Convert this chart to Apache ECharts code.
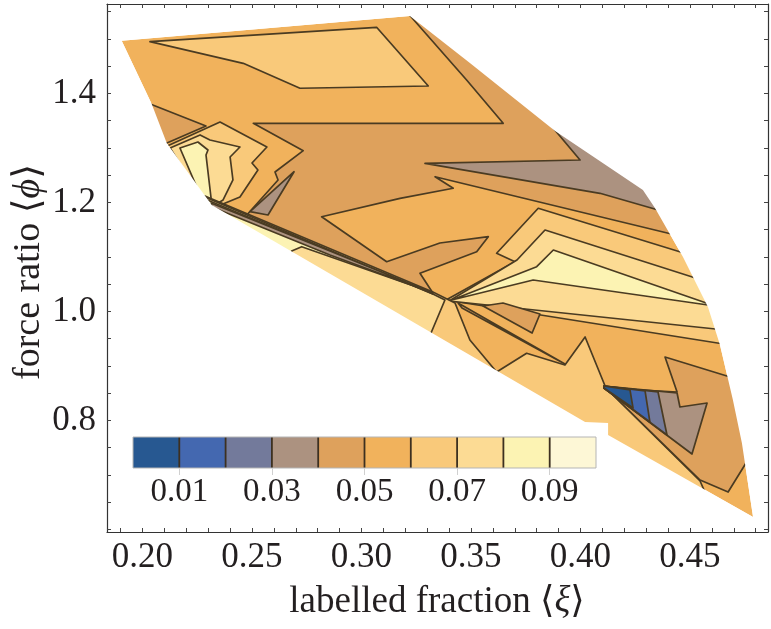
<!DOCTYPE html>
<html><head><meta charset="utf-8">
<script src="https://cdn.jsdelivr.net/npm/echarts@6/dist/echarts.min.js"></script>
<style>html,body{margin:0;padding:0;background:#fff}#c{width:771px;height:629px}</style>
</head><body><div id="c"></div>
<script>
// ---- colour levels (0.00 .. 0.10 step 0.01)
const levelBounds = [0, 0.01, 0.02, 0.03, 0.04, 0.05, 0.06, 0.07, 0.08, 0.09, 0.10];
const levelColors = ['#275891','#4468b0','#737a9b','#ac9280','#dea15c','#f1b25c','#f9c97a','#fcdb94','#fcf3b3','#fdf7d6'];
const colorbarLabels = [0.01, 0.03, 0.05, 0.07, 0.09];
// ---- axes
const xTickLabels = [0.20, 0.25, 0.30, 0.35, 0.40, 0.45];
const xTicks = [0.19,0.20,0.21,0.22,0.23,0.24,0.25,0.26,0.27,0.28,0.29,0.30,0.31,0.32,0.33,0.34,0.35,0.36,0.37,0.38,0.39,0.40,0.41,0.42,0.43,0.44,0.45,0.46,0.47,0.48];
const yTickLabels = [0.8, 1.0, 1.2, 1.4];
const yTicks = [0.60,0.65,0.70,0.75,0.80,0.85,0.90,0.95,1.00,1.05,1.10,1.15,1.20,1.25,1.30,1.35,1.40,1.45,1.50,1.55];
// ---- data domain (labelled fraction, force ratio)
const hull = [[0.1905,1.4969],[0.3221,1.5422],[0.3495,1.4560],[0.3884,1.3312],[0.4285,1.2229],[0.4340,1.1899],[0.4468,1.1000],[0.4582,1.0083],[0.4637,0.9385],[0.4696,0.8376],[0.4737,0.7587],[0.4788,0.6229],[0.4126,0.7734],[0.4126,0.7954],[0.4021,0.7972],[0.2316,1.1954],[0.2111,1.3086],[0.2042,1.3807]];
// ---- contour regions (vertices in data units)
const regionL5Main = [[0.3199,1.5532],[0.3480,1.4248],[0.3647,1.3453],[0.2506,1.3453],[0.2734,1.2951],[0.2605,1.2560],[0.2619,1.2413],[0.2468,1.1734],[0.3326,1.0339],[0.3267,1.0701],[0.3526,1.1097],[0.3579,1.1373],[0.3358,1.1257],[0.3115,1.0914],[0.2818,1.1739],[0.3176,1.2077],[0.3419,1.2261],[0.3336,1.2473],[0.4401,1.1435],[0.4546,1.1312],[0.4637,1.2413],[0.3906,1.4982],[0.3313,1.5569]];
const regionL5Left = [[0.1989,1.3881],[0.2290,1.3404],[0.2080,1.3037]];
const regionL7Top = [[0.2034,1.4951],[0.3069,1.5215],[0.3305,1.4138],[0.2719,1.4096],[0.2460,1.4554]];
const regionL4TopRight = [[0.3290,1.2719],[0.3998,1.2780],[0.3852,1.3477],[0.4180,1.3697],[0.4546,1.2229],[0.4418,1.1789],[0.4089,1.2169]];
const stairL7 = [[0.2103,1.3018],[0.2354,1.3477],[0.2568,1.3018],[0.2500,1.2725],[0.2527,1.2596],[0.2445,1.2101],[0.2345,1.1936],[0.2299,1.1899]];
const stairL8 = [[0.2126,1.3000],[0.2263,1.3239],[0.2308,1.3147],[0.2445,1.3018],[0.2400,1.2835],[0.2413,1.2413],[0.2368,1.2046],[0.2322,1.1936],[0.2290,1.1936]];
const stairL9 = [[0.2171,1.3000],[0.2253,1.3110],[0.2299,1.2963],[0.2290,1.2872],[0.2313,1.2083],[0.2308,1.1973],[0.2281,1.1973]];
const arrowL7 = [[0.4546,1.0982],[0.3807,1.1894],[0.3617,1.1068],[0.3701,1.0914],[0.3386,1.0211],[0.4683,0.9385]];
const arrowL8 = [[0.4568,1.0560],[0.3838,1.1495],[0.3710,1.0945],[0.3400,1.0193],[0.4660,0.9661]];
const arrowL9 = [[0.3412,1.0211],[0.3800,1.0822],[0.3876,1.1128],[0.4614,1.0101],[0.3784,1.0578]];
const quadL5 = [[0.3555,1.0101],[0.3646,1.0156],[0.3815,0.9954],[0.3779,0.9605]];
const sliverL5 = [[0.3441,1.0156],[0.3929,0.9037],[0.3459,1.0064]];
const stripL7 = [[0.2285,1.2119],[0.3326,1.0358],[0.3427,1.0156],[0.3495,0.9477],[0.3617,0.8890],[0.3754,0.9233],[0.3929,0.9018],[0.4021,0.9532],[0.4116,0.8596],[0.4546,0.6890],[0.4578,0.6596],[0.4180,0.6908],[0.3176,0.8743],[0.2263,1.1312],[0.2217,1.1954]];
const stripL8 = [[0.2263,1.2138],[0.3326,1.0321],[0.3381,1.0211],[0.3304,0.9477],[0.2263,1.1587]];
const stripL9 = [[0.2285,1.2064],[0.3326,1.0321],[0.3252,1.0450],[0.2727,1.1189],[0.2681,1.1110],[0.2674,1.0982],[0.2263,1.1771]];
const bandL4 = [[0.2313,1.1991],[0.2856,1.1110],[0.3326,1.0339],[0.2856,1.1037],[0.2317,1.1918]];
const spikeL4 = [[0.2491,1.1831],[0.2692,1.2565],[0.2573,1.1771]];
const pocketL5 = [[0.4386,0.9165],[0.4728,0.8743],[0.4801,0.7514],[0.4674,0.6688],[0.4546,0.6908],[0.4116,0.8596],[0.4441,0.8523]];
const pocketL4 = [[0.4107,0.8633],[0.4441,0.8505],[0.4454,0.8248],[0.4578,0.8321],[0.4509,0.7385],[0.4107,0.8596]];
const pocketL3 = [[0.4107,0.8633],[0.4354,0.8523],[0.4395,0.7734],[0.4107,0.8596]];
const pocketL2 = [[0.4107,0.8633],[0.4295,0.8541],[0.4317,0.7972],[0.4107,0.8596]];
const pocketL1 = [[0.4107,0.8633],[0.4226,0.8560],[0.4240,0.8229],[0.4107,0.8596]];

const baseLevel = 5;
const contourLayers = [
  {pts: regionL5Main, level: 4}, {pts: regionL5Left, level: 4}, {pts: regionL7Top, level: 6},
  {pts: regionL4TopRight, level: 3},
  {pts: stairL7, level: 6}, {pts: stairL8, level: 7}, {pts: stairL9, level: 8},
  {pts: arrowL7, level: 6}, {pts: arrowL8, level: 7}, {pts: arrowL9, level: 8},
  {pts: quadL5, level: 4}, {pts: sliverL5, level: 4},
  {pts: stripL7, level: 6}, {pts: stripL8, level: 7}, {pts: stripL9, level: 8},
  {pts: bandL4, level: 3}, {pts: spikeL4, level: 3},
  {pts: pocketL5, level: 4}, {pts: pocketL4, level: 3}, {pts: pocketL3, level: 2}, {pts: pocketL2, level: 1}, {pts: pocketL1, level: 0}
];

const LINE = '#4a3b22';
const SERIF = "'Liberation Serif', 'DejaVu Serif', serif";
const TXT = '#231f20';

function renderContour(params, api) {
  const toPx = p => api.coord(p);
  const children = [];
  const hp = hull.map(toPx);
  children.push({type: 'polygon', shape: {points: hp}, style: {fill: levelColors[baseLevel]}});
  contourLayers.forEach(l => {
    children.push({type: 'polygon', shape: {points: l.pts.map(toPx)},
      style: {fill: levelColors[l.level], stroke: LINE, lineWidth: 1.7, lineJoin: 'round'}});
  });
  // white mask outside the data domain
  const cs = params.coordSys;
  let area = 0;
  for (let i = 0; i < hp.length; i++) {
    const a = hp[i], b = hp[(i + 1) % hp.length];
    area += a[0] * b[1] - b[0] * a[1];
  }
  let h = hp.slice();
  if (area > 0) h.reverse();
  const pad = 2;
  const TL = [cs.x - pad, cs.y - pad], TR = [cs.x + cs.width + pad, cs.y - pad],
        BR = [cs.x + cs.width + pad, cs.y + cs.height + pad], BL = [cs.x - pad, cs.y + cs.height + pad];
  let k = 0, best = Infinity;
  h.forEach((p, i) => { const d = (p[0] - TL[0]) ** 2 + (p[1] - TL[1]) ** 2; if (d < best) { best = d; k = i; } });
  const hr = h.slice(k).concat(h.slice(0, k));
  const mask = [TL].concat(hr, [hr[0], TL, TR, BR, BL]);
  children.push({type: 'polygon', shape: {points: mask}, style: {fill: '#ffffff'}});
  return {type: 'group', children};
}

const colorbarData = levelColors.map((c, i) => [levelBounds[i], levelBounds[i + 1], i]);
function renderBox(params, api) {
  const p0 = api.coord([api.value(0), 0]);
  const p1 = api.coord([api.value(1), 1]);
  return {type: 'rect', shape: {x: p0[0], y: p1[1], width: p1[0] - p0[0], height: p0[1] - p1[1]},
    style: {fill: levelColors[api.value(2)]}};
}
function renderBarFrame(params, api) {
  const children = [];
  for (let i = 1; i < levelBounds.length - 1; i++) {
    const a = api.coord([levelBounds[i], 0]), b = api.coord([levelBounds[i], 1]);
    children.push({type: 'line', shape: {x1: a[0], y1: a[1], x2: b[0], y2: b[1]}, style: {stroke: '#3d3020', lineWidth: 1.8}});
  }
  const a = api.coord([levelBounds[0], 0]), b = api.coord([levelBounds[levelBounds.length - 1], 1]);
  children.push({type: 'rect', shape: {x: a[0], y: b[1], width: b[0] - a[0], height: a[1] - b[1]},
    style: {fill: 'none', stroke: '#b5b5b5', lineWidth: 1}});
  return {type: 'group', children};
}

const X_MIN = 0.18379, X_MAX = 0.48562, Y_MIN = 0.59541, Y_MAX = 1.56422;
const frameLine = {show: true, onZero: false, lineStyle: {color: '#333', width: 1.2}};
const labelStyle = {fontFamily: SERIF, fontSize: 35, color: TXT};
const cbLabelStyle = {fontFamily: SERIF, fontSize: 33, color: TXT};

const option = {
  animation: false,
  backgroundColor: '#fff',
  grid: [
    {left: 107, top: 4, width: 661, height: 528},
    {left: 133, top: 437, width: 463, height: 31}
  ],
  xAxis: [
    {gridIndex: 0, type: 'value', min: X_MIN, max: X_MAX, position: 'bottom', z: 10,
      axisLine: frameLine, splitLine: {show: false},
      axisTick: {show: true, inside: true, length: 4, customValues: xTicks, lineStyle: {color: '#444'}},
      axisLabel: Object.assign({customValues: xTickLabels, formatter: v => v.toFixed(2), margin: 8}, labelStyle)},
    {gridIndex: 0, type: 'value', min: X_MIN, max: X_MAX, position: 'top', z: 10,
      axisLine: frameLine, splitLine: {show: false},
      axisTick: {show: true, inside: true, length: 4, customValues: xTicks, lineStyle: {color: '#444'}},
      axisLabel: {show: false}},
    {gridIndex: 1, type: 'value', min: 0, max: 0.1, position: 'bottom', z: 10,
      axisLine: {show: false}, splitLine: {show: false},
      axisTick: {show: true, inside: false, length: 7, customValues: colorbarLabels, lineStyle: {color: '#d0d0d0'}},
      axisLabel: Object.assign({customValues: colorbarLabels, formatter: v => v.toFixed(2), margin: 8}, cbLabelStyle)}
  ],
  yAxis: [
    {gridIndex: 0, type: 'value', min: Y_MIN, max: Y_MAX, position: 'left', z: 10,
      axisLine: frameLine, splitLine: {show: false},
      axisTick: {show: true, inside: true, length: 4, customValues: yTicks, lineStyle: {color: '#444'}},
      axisLabel: Object.assign({customValues: yTickLabels, formatter: v => v.toFixed(1), margin: 11}, labelStyle)},
    {gridIndex: 0, type: 'value', min: Y_MIN, max: Y_MAX, position: 'right', z: 10,
      axisLine: frameLine, splitLine: {show: false},
      axisTick: {show: true, inside: true, length: 4, customValues: yTicks, lineStyle: {color: '#444'}},
      axisLabel: {show: false}},
    {gridIndex: 1, type: 'value', min: 0, max: 1, show: false}
  ],
  series: [
    {type: 'custom', xAxisIndex: 0, yAxisIndex: 0, data: [[0.3, 1.0]], renderItem: renderContour, silent: true, z: 2},
    {type: 'custom', xAxisIndex: 2, yAxisIndex: 2, data: colorbarData, renderItem: renderBox, silent: true, z: 5},
    {type: 'custom', xAxisIndex: 2, yAxisIndex: 2, data: [[0.05, 0.5]], renderItem: renderBarFrame, silent: true, z: 6}
  ],
  graphic: [
    {type: 'text', x: 437, y: 602, z: 100,
      style: {text: '{n|labelled fraction ⟨}{i|ξ}{n|⟩}', textAlign: 'center', textVerticalAlign: 'middle', fill: TXT,
        rich: {n: {fontFamily: SERIF, fontSize: 37, fill: TXT}, i: {fontFamily: SERIF, fontStyle: 'italic', fontSize: 37, fill: TXT}}}},
    {type: 'text', x: 29, y: 272, rotation: Math.PI / 2, z: 100,
      style: {text: '{n|force ratio ⟨}{i|ϕ}{n|⟩}', textAlign: 'center', textVerticalAlign: 'middle', fill: TXT,
        rich: {n: {fontFamily: SERIF, fontSize: 38, fill: TXT}, i: {fontFamily: SERIF, fontStyle: 'italic', fontSize: 38, fill: TXT}}}}
  ]
};
const chart = echarts.init(document.getElementById('c'), null, {renderer: 'canvas'});
chart.setOption(option);
</script>
</body></html>
